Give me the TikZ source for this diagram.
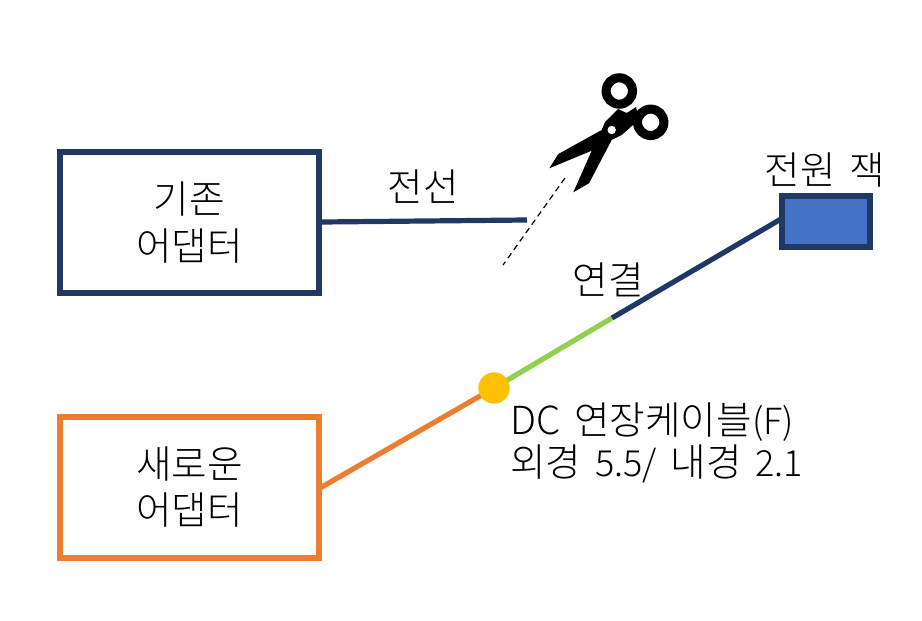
\documentclass[tikz,border=0pt]{standalone}
\usepackage{fontspec}
\setmainfont[WordSpace=1.6]{Noto Sans CJK KR Light}
\definecolor{navy}{HTML}{1F3864}
\definecolor{orng}{HTML}{ED7D31}
\definecolor{grn}{HTML}{92D050}
\definecolor{gold}{HTML}{FFC000}
\definecolor{blu}{HTML}{4472C4}
\newcommand{\txtsize}{\fontsize{29pt}{35pt}\selectfont}
\newcommand{\numsize}{\fontsize{27pt}{31.5pt}\selectfont}
\tikzset{
  px/.style={x=0.75pt,y=-0.75pt},
  adapter/.style={draw,line width=4.5pt,minimum width=194.25pt,minimum height=105.75pt,inner sep=0pt,align=center,font=\txtsize},
  wire/.style={line width=3.9pt},
  label/.style={inner sep=0pt,align=left,font=\txtsize,text=black}
}
\begin{document}
\begin{tikzpicture}[px]
\useasboundingbox (0,0) rectangle (922,621);
\node[adapter,draw=navy] (old) at (189.5,222.5) {기존\\어댑터};
\node[adapter,draw=orng] (new) at (189.5,487) {새로운\\어댑터};
\node[draw=navy,fill=blu,line width=4.5pt,minimum width=66pt,minimum height=38.25pt,inner sep=0pt] (jack) at (826,221.5) {};
\coordinate (cut) at (527,220);
\coordinate (mid) at (612,318);
\coordinate (cutA) at (565,178);
\coordinate (cutB) at (503,265);
\coordinate (jackin) at (781,219);
\coordinate (newout) at (320,488);
\draw[wire,navy] (old.east |- 320,222) -- (cut);
\draw[wire,orng] (newout) -- (494,388);
\draw[wire,grn] (494,388) -- (mid);
\draw[wire,navy] (mid) -- (jackin);
\node[circle,fill=gold,minimum size=23.5pt,inner sep=0pt] (dot) at (494,388) {};
\draw[line width=0.9pt,dash pattern=on 4.5pt off 3.2pt] (cutA) -- (cutB);
% scissors
\fill[black] (549.3,168.3) -- (558.3,154) -- (601.7,130) -- (605,122) -- (618,109) -- (626.7,113) -- (636,107) -- (640,125) -- (633,125) -- (621.7,135) -- (611.7,140) -- (589,183.3) -- (573.3,192.3) -- (591.7,150.7) -- cycle;
\draw[black,line width=6.8pt] (619.3,91) circle (13.2);
\draw[black,line width=6.8pt] (650.7,122.3) circle (13.2);
\fill[white] (611.7,130) circle (4.2);
\node[label,anchor=center] (l1) at (423,187) {전선};
\node[label,anchor=center] (l2) at (608,280) {연결};
\node[label,anchor=center] (l3) at (825,170) {전원 잭};
\node[label,anchor=west,font=\fontsize{29pt}{31.5pt}\selectfont] (l4) at (510,443) {DC 연장케이블{\numsize(F)}\\외경 {\numsize 5.5/} 내경 {\numsize 2.1}};
\end{tikzpicture}
\end{document}
